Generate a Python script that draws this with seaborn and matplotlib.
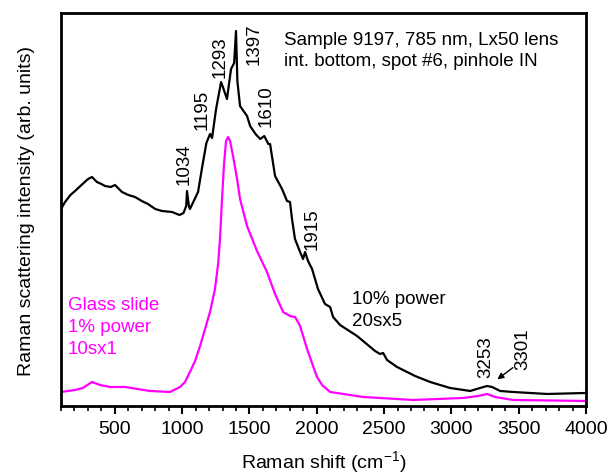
import numpy as np
import pandas as pd
import matplotlib
matplotlib.use("Agg")
import matplotlib.pyplot as plt
import seaborn as sns

# sample spectrum (10% power, 20sx5) - Raman shift (cm-1), intensity (arb.)
sample_shift = [100, 130, 170, 204, 260, 301, 330, 367, 400, 427, 470, 501, 553, 600,
                650, 700, 746, 800, 850, 925, 980, 1010, 1030, 1036, 1050, 1058, 1118,
                1150, 1180, 1207, 1222, 1252, 1289, 1305, 1333, 1363, 1386, 1400, 1410,
                1430, 1482, 1505, 1545, 1580, 1610, 1640, 1653, 1690, 1742, 1779, 1801,
                1816, 1838, 1876, 1898, 1913, 1935, 1965, 2009, 2061, 2099, 2121, 2173,
                2299, 2433, 2470, 2493, 2522, 2596, 2730, 2842, 2990, 3139, 3213, 3265,
                3302, 3362, 3458, 3711, 4000]
sample_int = [197, 204, 211, 215, 222, 227, 229, 224, 222, 220, 219, 221, 214, 211,
              209, 205, 202, 197, 195, 194, 191, 193, 200, 215, 200, 197, 214,
              240, 263, 272, 268, 297, 324, 318, 307, 337, 343, 375, 325,
              300, 290, 280, 272, 267, 270, 262, 262, 230, 217, 205, 204,
              187, 167, 154, 147, 154, 145, 137, 117, 102, 99, 89, 81,
              70, 55, 52, 53, 46, 39, 30, 24, 18, 15, 18, 20,
              19, 15, 14, 12, 13]

# glass slide reference (1% power, 10sx1)
glass_shift = [100, 204, 263, 330, 390, 464, 576, 761, 910, 984, 1021, 1058, 1096, 1133,
               1170, 1207, 1244, 1267, 1281, 1296, 1311, 1326, 1341, 1356, 1378, 1408,
               1430, 1482, 1556, 1630, 1690, 1750, 1801, 1839, 1876, 1928, 1972, 2002,
               2039, 2099, 2344, 2715, 3087, 3198, 3265, 3324, 3458, 4000]
glass_int = [14, 16, 18, 24, 21, 19, 19, 15, 14, 19, 24, 34, 45, 60,
             77, 94, 117, 142, 167, 207, 242, 265, 269, 265, 250, 227,
             207, 180, 155, 134, 112, 94, 90, 89, 80, 57, 40, 29,
             21, 14, 9, 6, 8, 10, 12, 9, 6, 5]

peak_labels = ["1034", "1195", "1293", "1397", "1610", "1915", "3253", "3301"]
# label anchor (x in cm-1, y in arb. units) - bottom centre of the rotated text
label_x = [1014, 1148, 1281, 1534, 1623, 1965, 3258, 3533]
label_y = [222, 277, 329, 342, 280, 157, 29, 37]

MAGENTA = "#ff00ff"

sns.set_theme(style="ticks")
plt.rcParams["font.family"] = ["Liberation Sans", "DejaVu Sans"]
plt.rcParams["mathtext.fontset"] = "custom"
plt.rcParams["mathtext.rm"] = "Liberation Sans"
plt.rcParams["text.color"] = "black"
plt.rcParams["axes.labelcolor"] = "black"
plt.rcParams["xtick.color"] = "black"

fig = plt.figure(figsize=(6.1, 4.77), dpi=100)
ax = fig.add_axes([0.1, 0.1468, 0.8607, 0.8238])

sample = pd.DataFrame({"shift": sample_shift, "intensity": sample_int})
glass = pd.DataFrame({"shift": glass_shift, "intensity": glass_int})

sns.lineplot(data=sample, x="shift", y="intensity", color="black", lw=1.6, ax=ax, sort=False)
sns.lineplot(data=glass, x="shift", y="intensity", color=MAGENTA, lw=1.6, ax=ax, sort=False)

ax.set_xlim(100, 4000)
ax.set_ylim(0, 393)
ax.set_xticks(np.arange(500, 4001, 500))
ax.set_xticks(np.arange(100, 4001, 100), minor=True)
ax.set_yticks([])
ax.tick_params(axis="x", which="major", length=6, width=1.5, labelsize=14, direction="out", pad=4)
ax.tick_params(axis="x", which="minor", length=3.5, width=1.2, direction="out")
for sp in ax.spines.values():
    sp.set_visible(True)
    sp.set_linewidth(2)
    sp.set_color("black")

ax.set_xlabel("Raman shift (cm$^{-1}$)", fontsize=14, labelpad=8)
ax.set_ylabel("Raman scattering intensity (arb. units)", fontsize=14, labelpad=19)

for lab, lx, ly in zip(peak_labels, label_x, label_y):
    ax.text(lx, ly, lab, rotation=90, ha="center", va="bottom", fontsize=13.5)

ax.annotate("", xy=(3325, 25), xytext=(3473, 40),
            arrowprops=dict(arrowstyle="-|>", color="black", lw=1.0, mutation_scale=9))

ax.text(0.425, 0.955, "Sample 9197, 785 nm, Lx50 lens\nint. bottom, spot #6, pinhole IN",
        transform=ax.transAxes, ha="left", va="top", fontsize=13.5, linespacing=1.3)
ax.text(0.013, 0.28, "Glass slide\n1% power\n10sx1", transform=ax.transAxes,
        ha="left", va="top", fontsize=13.5, color=MAGENTA, linespacing=1.4)
ax.text(0.555, 0.295, "10% power\n20sx5", transform=ax.transAxes,
        ha="left", va="top", fontsize=13.5, color="black", linespacing=1.4)

fig.savefig("out.png", dpi=100)
